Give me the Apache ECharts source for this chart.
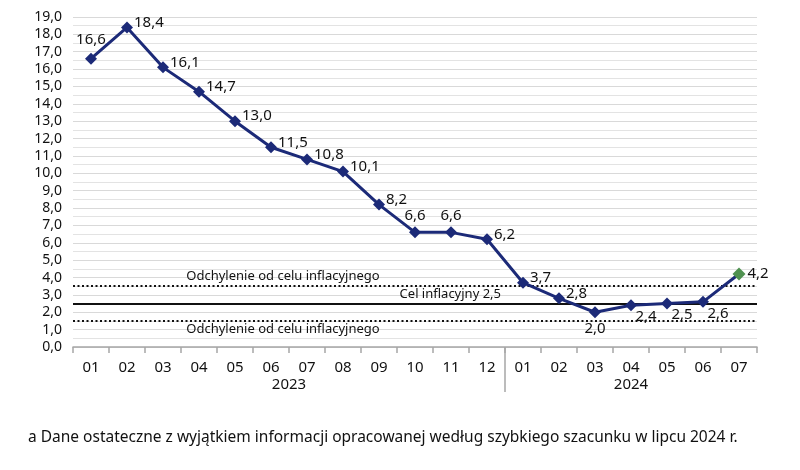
<!DOCTYPE html>
<html><head><meta charset="utf-8">
<script src="https://cdn.jsdelivr.net/npm/echarts@6/dist/echarts.min.js"></script>
<style>html,body{margin:0;padding:0;background:#fff}#c{width:800px;height:470px}</style>
</head><body><div id="c"></div>
<script>
const months = ['01','02','03','04','05','06','07','08','09','10','11','12','01','02','03','04','05','06','07'];
const cpi = [16.6,18.4,16.1,14.7,13.0,11.5,10.8,10.1,8.2,6.6,6.6,6.2,3.7,2.8,2.0,2.4,2.5,2.6,4.2];
const labelPos = ['top','right','right','right','right','right','right','right','right','top','top','right','right','right','bottom','bottom','bottom','bottom','right'];
const years = ['2023','2024'];
const yearSpan = [[0,11],[12,18]];
const targetLines = [3.5, 2.5, 1.5];
const yTicks = {min:0, max:19, interval:1};
const lineTexts = ['Odchylenie od celu inflacyjnego','Cel inflacyjny 2,5','Odchylenie od celu inflacyjnego'];
const footnote = 'a Dane ostateczne z wyjątkiem informacji opracowanej według szybkiego szacunku w lipcu 2024 r.';

const FONT = 'Noto Sans';
const navy = '#1c2a78';
const green = '#4f9150';
const fmt = v => v.toFixed(1).replace('.',',');

const offsets = {
  'top':[0,0],'right':[-2,-5],'bottom':[0,0]
};
const data = cpi.map((v,i)=>{
  const p = labelPos[i];
  let off = offsets[p].slice();
  if (p==='bottom' && i>14) off=[15,-5];
  if (i===0) off=[0,-2];
  const d = {value:v, label:{position:p, offset:off}};
  if (i===cpi.length-1) { d.itemStyle={color:green}; d.symbolSize=13; d.label.offset=[-1,0]; }
  return d;
});

const chart = echarts.init(document.getElementById('c'));
chart.setOption({
  animation:false,
  textStyle:{fontFamily:FONT},
  grid:{left:73,right:43,top:17,bottom:123},
  xAxis:{type:'category',data:months,boundaryGap:true,
    axisLine:{lineStyle:{color:'#a6a6a6',width:1.5}},
    axisTick:{show:true,interval:0,length:6,lineStyle:{color:'#a6a6a6',width:1.5}},
    axisLabel:{color:'#111',fontSize:15,margin:13,fontFamily:FONT}},
  yAxis:{type:'value',min:yTicks.min,max:yTicks.max,interval:yTicks.interval,
    axisLine:{show:false},axisTick:{show:false},
    axisLabel:{color:'#111',fontSize:14,formatter:fmt,margin:11,fontFamily:FONT},
    splitLine:{lineStyle:{color:'#d9d9d9',width:1.2}},
    minorTick:{show:false,splitNumber:2},
    minorSplitLine:{show:true,lineStyle:{color:'#e3e3e3',width:1.2}}},
  series:[{type:'line',data:data,symbol:'diamond',symbolSize:12,
    lineStyle:{color:navy,width:3},itemStyle:{color:navy},
    label:{show:true,formatter:p=>fmt(p.value),color:'#111',fontSize:15,fontFamily:FONT,distance:3},
    z:5,
    markLine:{silent:true,symbol:'none',label:{show:false},
      data:targetLines.map((v,i)=>({yAxis:v,lineStyle:{color:'#111',type:i===1?'solid':[2,2.5],width:2}}))}
  }]
});

function px(i,v){return chart.convertToPixel({xAxisIndex:0,yAxisIndex:0},[i,v]);}
const g=[];
const bw = px(1,0)[0]-px(0,0)[0];
years.forEach((y,k)=>{
  const a=px(yearSpan[k][0],0)[0], b=px(yearSpan[k][1],0)[0];
  g.push({type:'text',x:(a+b)/2,y:px(0,0)[1]+30,style:{text:y,fill:'#111',font:'15px '+FONT,textAlign:'center',textVerticalAlign:'top'}});
});
const dx = px(11,0)[0]+bw/2;
g.push({type:'line',shape:{x1:dx,y1:px(0,0)[1],x2:dx,y2:px(0,0)[1]+45},style:{stroke:'#a6a6a6',lineWidth:1.5}});
g.push({type:'text',x:px(5,0)[0]+12,y:px(0,targetLines[0])[1]-3,style:{text:lineTexts[0],fill:'#111',font:'13px '+FONT,textAlign:'center',textVerticalAlign:'bottom'}});
g.push({type:'text',x:px(12,0)[0]-22,y:px(0,targetLines[1])[1]-3,style:{text:lineTexts[1],fill:'#111',font:'13px '+FONT,textAlign:'right',textVerticalAlign:'bottom'}});
g.push({type:'text',x:px(5,0)[0]+12,y:px(0,targetLines[2])[1]+2,style:{text:lineTexts[2],fill:'#111',font:'13px '+FONT,textAlign:'center',textVerticalAlign:'top'}});
g.push({type:'text',left:28,top:430,style:{text:footnote,fill:'#111',font:'15.5px '+FONT}});
chart.setOption({graphic:g});
</script></body></html>
